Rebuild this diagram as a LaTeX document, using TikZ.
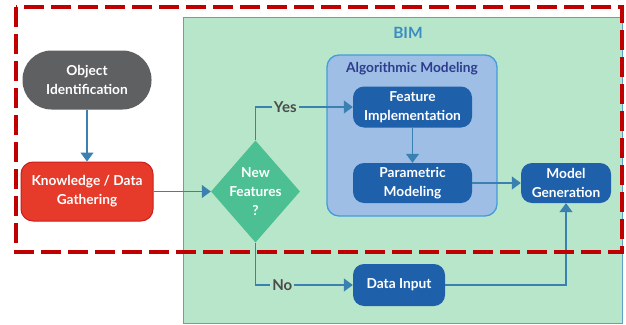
\documentclass[tikz,border=0pt]{standalone}
\usepackage{fontspec}
\setmainfont{Lato}
\usetikzlibrary{arrows.meta,shapes.geometric}
\definecolor{bimgreen}{RGB}{184,230,202}
\definecolor{bimline}{RGB}{95,160,200}
\definecolor{bimtext}{RGB}{60,140,195}
\definecolor{algofill}{RGB}{158,190,230}
\definecolor{algoline}{RGB}{70,155,220}
\definecolor{algotext}{RGB}{45,60,140}
\definecolor{stepblue}{RGB}{31,96,170}
\definecolor{objgray}{RGB}{95,96,98}
\definecolor{knowred}{RGB}{230,58,42}
\definecolor{knowline}{RGB}{205,30,30}
\definecolor{dgreen}{RGB}{76,192,146}
\definecolor{linkblue}{RGB}{58,128,176}
\definecolor{framered}{RGB}{192,0,0}
\definecolor{ansgray}{RGB}{75,75,75}
\begin{document}
\begin{tikzpicture}[x=1pt,y=-1pt,>={Triangle[width=13pt,length=9pt]},
  every node/.style={font=\bfseries\fontsize{13.7}{19}\selectfont,align=center},
  stepbox/.style={fill=stepblue,text=white,rounded corners=11pt,inner sep=0pt},
  link/.style={draw=linkblue,line width=1.3pt,->},
  answer/.style={fill=bimgreen,text=ansgray,inner sep=2pt,font=\bfseries\fontsize{15}{19}\selectfont}]
\useasboundingbox (0,0) rectangle (626,324);
\node[fill=bimgreen,draw=bimline,line width=1pt,minimum width=439,minimum height=306] (bim) at (402.5,170) {};
\node[text=bimtext,font=\bfseries\fontsize{15.5}{19}\selectfont] (bimlabel) at (408,33) {BIM};
\node[fill=algofill,draw=algoline,line width=1.3pt,rounded corners=12pt,minimum width=170,minimum height=161] (algo) at (412,135.5) {};
\node[text=algotext] (algolabel) at (412,69) {Algorithmic Modeling};
\node[fill=objgray,text=white,rounded corners=29pt,minimum width=129,minimum height=59,inner sep=0pt] (obj) at (87,80) {Object\\Identification};
\node[fill=knowred,draw=knowline,line width=1pt,text=white,rounded corners=12pt,minimum width=132,minimum height=59,inner sep=0pt] (know) at (87,191.5) {Knowledge / Data\\Gathering};
\node[diamond,fill=dgreen,minimum width=89,minimum height=102,inner sep=0pt,
  label={[text=white,align=center]center:{New\\Features\\?}}] (newf) at (255.5,191.5) {};
\node[stepbox,minimum width=119,minimum height=41] (feat) at (412.5,107) {Feature\\Implementation};
\node[stepbox,minimum width=119,minimum height=40] (param) at (412.5,183) {Parametric\\Modeling};
\node[stepbox,minimum width=90,minimum height=40] (model) at (566,183) {Model\\Generation};
\node[stepbox,minimum width=92,minimum height=42] (datain) at (399,285) {Data Input};
\draw[link] (obj) -- (know);
\draw[link] (know) -- (newf);
\draw[link] (newf.north) |- node[answer,pos=0.653] {Yes} (feat.west);
\draw[link] (newf.south) |- node[answer,pos=0.638] {No} (datain.west);
\draw[link] (feat) -- (param);
\draw[link] (param) -- (model);
\draw[link] (datain) -| (model);
\draw[framered,line width=4pt,dash pattern=on 20pt off 7pt] (16,7) rectangle (622,252);
\end{tikzpicture}
\end{document}
